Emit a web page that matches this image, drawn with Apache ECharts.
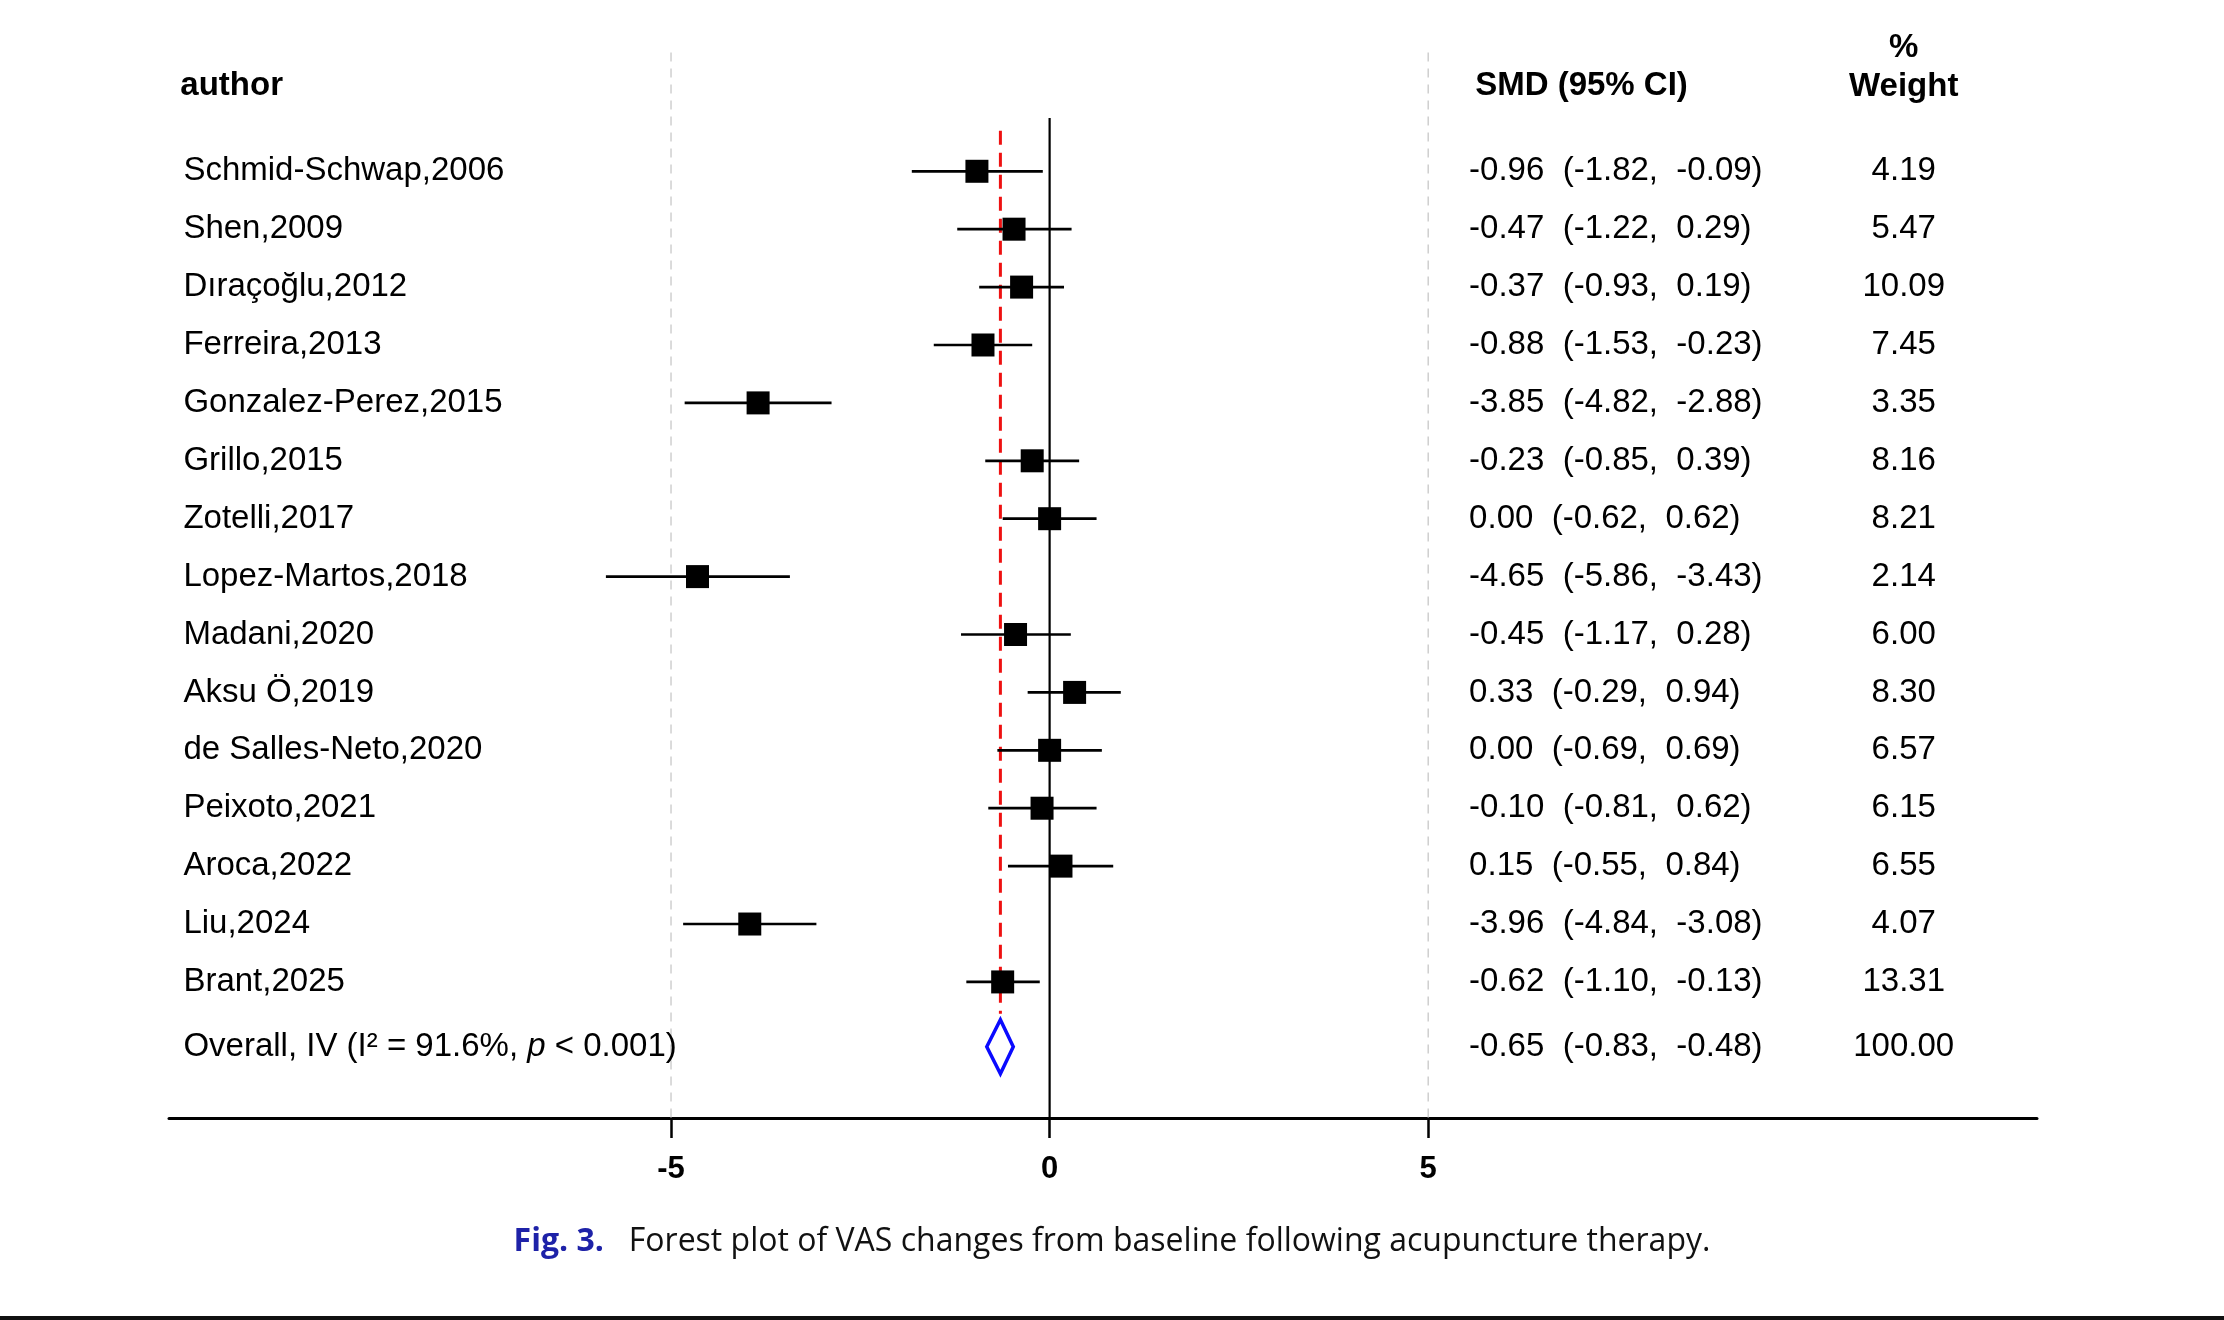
<!DOCTYPE html>
<html><head><meta charset="utf-8">
<script src="https://cdn.jsdelivr.net/npm/echarts@6/dist/echarts.min.js"></script>
<style>html,body{margin:0;padding:0;background:#ffffff}#c{width:2224px;height:1320px}</style>
</head><body><div id="c"></div>
<script>
// ---- data ----
const authors = ['Schmid-Schwap,2006','Shen,2009','Dıraçoğlu,2012','Ferreira,2013','Gonzalez-Perez,2015','Grillo,2015','Zotelli,2017','Lopez-Martos,2018','Madani,2020','Aksu Ö,2019','de Salles-Neto,2020','Peixoto,2021','Aroca,2022','Liu,2024','Brant,2025'];
const smd     = [-0.96,-0.47,-0.37,-0.88,-3.85,-0.23, 0.00,-4.65,-0.45, 0.33, 0.00,-0.10, 0.15,-3.96,-0.62];
const ciLow   = [-1.82,-1.22,-0.93,-1.53,-4.82,-0.85,-0.62,-5.86,-1.17,-0.29,-0.69,-0.81,-0.55,-4.84,-1.10];
const ciHigh  = [-0.09, 0.29, 0.19,-0.23,-2.88, 0.39, 0.62,-3.43, 0.28, 0.94, 0.69, 0.62, 0.84,-3.08,-0.13];
const weights = [4.19,5.47,10.09,7.45,3.35,8.16,8.21,2.14,6.00,8.30,6.57,6.15,6.55,4.07,13.31];
const overallSmd = -0.65, overallLow = -0.83, overallHigh = -0.48, overallWeight = 100.00;
const overallI2 = 91.6, overallP = '< 0.001';
const xTicks = [-5, 0, 5];

// ---- layout (not data) ----
const X_MIN = -11.63, X_MAX = 13.04, Y_MIN = -2.25, Y_MAX = 16.35;
const OVERALL_ROW = 15.12, HEADER_ROW = -1.47, WEIGHT_HEADER_ROW = -1.79;
const X_AUTHOR = -11.44, X_SMD = 5.54, X_WEIGHT = 11.28;
const FONT = "'Liberation Sans', Arial, sans-serif";
const INK = '#000';

const rows = authors.map((_, i) => i);
const fmt = v => v.toFixed(2);
const smdText = (e, l, h) => fmt(e) + '  (' + fmt(l) + ',  ' + fmt(h) + ')';

const chart = echarts.init(document.getElementById('c'), null, {renderer: 'canvas'});

const baseLabel = (align, more) => Object.assign({
  show: true, position: 'inside', align: align, verticalAlign: 'middle', formatter: '{b}',
  fontFamily: FONT, fontSize: 33, color: INK, opacity: 1
}, more || {});

const textSeries = (data, label) => ({
  type: 'scatter', silent: true, symbol: 'circle', symbolSize: 1, z: 10,
  itemStyle: {color: 'rgba(255,255,255,0)', opacity: 1},
  label: label, data: data
});

const option = {
  animation: false,
  backgroundColor: '#ffffff',
  grid: {left: 169, right: 187, top: 41, bottom: 202, containLabel: false, outerBoundsMode: 'none'},
  xAxis: {
    type: 'value', min: X_MIN, max: X_MAX,
    axisLine: {show: true, onZero: false, lineStyle: {color: '#000', width: 3}},
    axisTick: {show: true, customValues: xTicks, length: 20, lineStyle: {color: '#000', width: 2.5}},
    axisLabel: {show: true, customValues: xTicks, margin: 36, fontFamily: FONT, fontSize: 31, fontWeight: 'bold', color: INK},
    splitLine: {show: false}
  },
  yAxis: {type: 'value', min: Y_MIN, max: Y_MAX, inverse: true, show: false},
  series: [
    // grey dashed reference lines at -5 and 5
    ...xTicks.filter(v => v !== 0).map(v => ({
      type: 'line', silent: true, symbol: 'none', z: 1,
      lineStyle: {color: '#cfcfcf', width: 1.5, type: [9, 7]},
      data: [[v, -2.05], [v, Y_MAX]]
    })),
    // line of no effect
    {type: 'line', silent: true, symbol: 'none', z: 2,
      lineStyle: {color: '#000', width: 2.2}, data: [[0, -0.92], [0, Y_MAX]]},
    // overall effect red dashed line
    {type: 'line', silent: true, symbol: 'none', z: 3,
      lineStyle: {color: '#ee1111', width: 3, type: [14, 8]},
      data: [[overallSmd, -0.7], [overallSmd, 14.55]]},
    // confidence intervals
    {type: 'custom', silent: true, z: 4,
      encode: {x: [0, 1], y: 2},
      data: rows.map(i => [ciLow[i], ciHigh[i], i]),
      renderItem: (params, api) => {
        const a = api.coord([api.value(0), api.value(2)]);
        const b = api.coord([api.value(1), api.value(2)]);
        return {type: 'line', shape: {x1: a[0], y1: a[1], x2: b[0], y2: b[1]},
          style: {stroke: '#000', lineWidth: 2.7}};
      }},
    // point estimates
    {type: 'scatter', silent: true, symbol: 'rect', symbolSize: 23, z: 5,
      itemStyle: {color: '#000', opacity: 1},
      data: rows.map(i => [smd[i], i])},
    // overall diamond
    {type: 'custom', silent: true, z: 6,
      encode: {x: [0, 1, 2], y: 3},
      data: [[overallLow, overallSmd, overallHigh, OVERALL_ROW]],
      renderItem: (params, api) => {
        const l = api.coord([api.value(0), api.value(3)]);
        const c = api.coord([api.value(1), api.value(3)]);
        const r = api.coord([api.value(2), api.value(3)]);
        const h = 27;
        return {type: 'polygon', shape: {points: [[l[0], l[1]], [c[0], c[1] - h], [r[0], r[1]], [c[0], c[1] + h]]},
          style: {fill: 'none', stroke: '#0a0aff', lineWidth: 3.5, lineJoin: 'miter'}};
      }},
    // author column
    textSeries(rows.map(i => ({value: [X_AUTHOR, i], name: authors[i]})).concat([{
      value: [X_AUTHOR, OVERALL_ROW], name: 'overall',
      label: {formatter: '{a|Overall, IV (I²\u00a0= ' + overallI2.toFixed(1) + '%, }{i|p}{a| ' + overallP + ')}'}
    }]), baseLabel('left', {rich: {
      a: {fontFamily: FONT, fontSize: 33, color: INK},
      i: {fontFamily: FONT, fontSize: 33, color: INK, fontStyle: 'italic'}}})),
    // SMD column
    textSeries(rows.map(i => ({value: [X_SMD, i], name: smdText(smd[i], ciLow[i], ciHigh[i])}))
      .concat([{value: [X_SMD, OVERALL_ROW], name: smdText(overallSmd, overallLow, overallHigh)}]), baseLabel('left')),
    // weight column
    textSeries(rows.map(i => ({value: [X_WEIGHT, i], name: fmt(weights[i])}))
      .concat([{value: [X_WEIGHT, OVERALL_ROW], name: fmt(overallWeight)}]), baseLabel('center')),
    // headers
    textSeries([{value: [X_AUTHOR - 0.04, HEADER_ROW], name: 'author'}, {value: [X_SMD + 0.08, HEADER_ROW], name: 'SMD (95% CI)'}],
      baseLabel('left', {fontWeight: 'bold'})),
    textSeries([{value: [X_WEIGHT, WEIGHT_HEADER_ROW], name: '%\nWeight'}],
      baseLabel('center', {fontWeight: 'bold', lineHeight: 39}))
  ],
  graphic: [
    {type: 'text', left: 'center', top: 1226, silent: true,
      style: {text: '{f|Fig. 3.}{t|   Forest plot of VAS changes from baseline following acupuncture therapy.}',
        rich: {f: {fontFamily: "'Open Sans', 'Noto Sans', sans-serif", fontSize: 32, fontWeight: 'bold', fill: '#1e22a8'},
               t: {fontFamily: "'Open Sans', 'Noto Sans', sans-serif", fontSize: 32, fill: '#111'}}}},
    {type: 'rect', left: 0, top: 1316, silent: true, shape: {width: 2224, height: 4}, style: {fill: '#111'}}
  ]
};
chart.setOption(option);
</script></body></html>
